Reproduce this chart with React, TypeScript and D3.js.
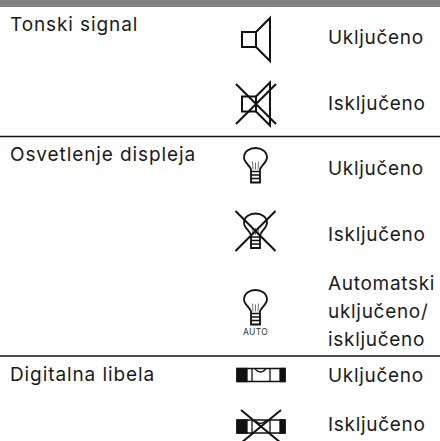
import React from 'react';
import * as d3 from 'd3';

const width = 440;
const height = 441;

const sectionTitles = ['Tonski signal', 'Osvetlenje displeja', 'Digitalna libela'];
const stateLabels = ['Uključeno', 'Isključeno', 'Uključeno', 'Isključeno', 'Automatski|uključeno/|isključeno', 'Uključeno', 'Isključeno'];
const iconKinds = ['speaker', 'speaker', 'bulb', 'bulb', 'bulb', 'level', 'level'];
const iconCrossed = [false, true, false, true, false, false, true];
const iconAuto = [false, false, false, false, true, false, false];

// table layout, row index -> pixel
const titleY = d3.scaleOrdinal<number, number>().domain([0, 1, 2]).range([31, 161, 381]);
const ruleY = d3.scaleOrdinal<number, number>().domain([0, 1]).range([136.5, 356]);
const stateY = d3.scaleOrdinal<number, number>().domain(d3.range(7)).range([44, 110, 175, 241, 290, 382, 431]);
const iconY = d3.scaleOrdinal<number, number>().domain(d3.range(7)).range([39.5, 104, 165.5, 231, 307.5, 375, 426.5]);
const iconX = d3.scaleOrdinal<string, number>().domain(['speaker', 'bulb', 'level']).range([256, 255.5, 261]);

const fontFamily = 'Inter, "Noto Sans", sans-serif';
const ink = '#1a1a1a';
const fontSize = 19;

const bulbPath = d3.path();
bulbPath.moveTo(-4.5, 17);
bulbPath.lineTo(-4.5, 4);
bulbPath.bezierCurveTo(-6, -1, -11.5, -3, -11.5, -8);
bulbPath.bezierCurveTo(-11.5, -14, -6, -17.5, 0, -17.5);
bulbPath.bezierCurveTo(6, -17.5, 11.5, -14, 11.5, -8);
bulbPath.bezierCurveTo(11.5, -3, 6, -1, 4.5, 4);
bulbPath.lineTo(4.5, 17);
bulbPath.closePath();

const Speaker = () => (
  <g fill="none" stroke="#111" strokeWidth={2}>
    <rect x={-14} y={-7.5} width={14} height={15} />
    <path d="M0,-7.5 L14,-21.5 V21.5 L0,7.5" />
  </g>
);

const Bulb = () => (
  <g fill="none" stroke="#111" strokeWidth={1.8}>
    <path d={bulbPath.toString()} />
    <path d="M-4.5,6 H4.5 M-4.5,9.5 H4.5 M-4.5,13 H4.5" strokeWidth={1.7} />
    <path d="M-2.5,4 L-3,-4 M2.5,4 L3,-4 M0,4 V-3" strokeWidth={0.6} />
  </g>
);

const Level = () => (
  <g fill="none" stroke="#111" strokeWidth={1.3}>
    <rect x={-24} y={-6.5} width={48} height={13} strokeWidth={1.5} />
    <rect x={-24} y={-6.5} width={10} height={13} fill="#111" />
    <rect x={19} y={-6.5} width={5} height={13} fill="#111" />
    <path d="M-9,-6.5 V6.5 M9,-6.5 V6.5 M-6,-6 Q-0.5,0 5,-6" />
  </g>
);

const Cross = ({ w, h }: { w: number; h: number }) => (
  <path d={`M${-w},${-h} L${w},${h} M${w},${-h} L${-w},${h}`} stroke="#111" strokeWidth={2} fill="none" />
);

export default function App() {
  return (
    <svg width={width} height={height} style={{ position: 'absolute', left: 0, top: 0, background: '#fff' }}>
      <rect x={0} y={0} width={width} height={7} fill="#808080" />
      {ruleY.domain().map(d => (
        <line key={d} x1={0} x2={width} y1={ruleY(d)} y2={ruleY(d)} stroke="#111" strokeWidth={1.3} />
      ))}
      {sectionTitles.map((t, i) => (
        <text key={t} x={10} y={titleY(i)} fontFamily={fontFamily} fontSize={fontSize} letterSpacing={0.9} fill={ink}>{t}</text>
      ))}
      {stateLabels.map((label, i) => (
        <text key={i} fontFamily={fontFamily} fontSize={fontSize} fill={ink} letterSpacing={0.7}>
          {label.split('|').map((l, j) => (
            <tspan key={l} x={328} y={stateY(i) + j * 28}>{l}</tspan>
          ))}
        </text>
      ))}
      {iconKinds.map((k, i) => (
        <g key={i} transform={`translate(${iconX(k)},${iconY(i)})`}>
          {k === 'speaker' && <Speaker />}
          {k === 'bulb' && <Bulb />}
          {k === 'level' && <Level />}
          {iconCrossed[i] && <Cross w={20} h={k === 'level' ? 16.5 : 20} />}
          {iconAuto[i] && <text x={0} y={27.5} textAnchor="middle" fontFamily={fontFamily} fontSize={8.5} letterSpacing={0.3} fill="#333">AUTO</text>}
        </g>
      ))}
    </svg>
  );
}
